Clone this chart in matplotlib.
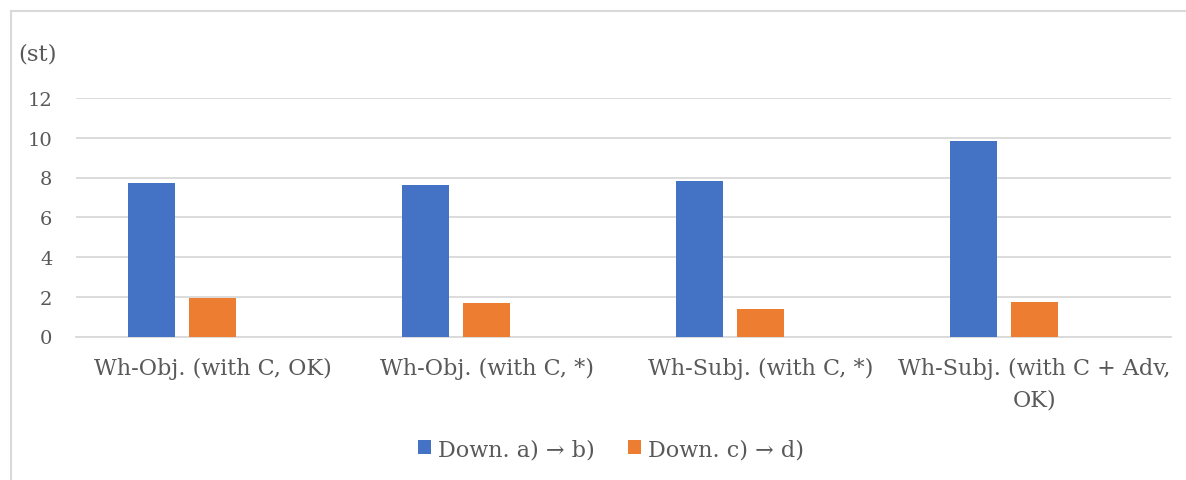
import matplotlib
matplotlib.use("Agg")
import matplotlib.pyplot as plt
from matplotlib.lines import Line2D
import numpy as np

# chart data
categories = ["Wh-Obj. (with C, OK)", "Wh-Obj. (with C, *)",
              "Wh-Subj. (with C, *)", "Wh-Subj. (with C + Adv,\nOK)"]
down_ab = [7.7, 7.6, 7.82, 9.85]
down_cd = [1.95, 1.7, 1.4, 1.72]
series_names = ["Down. a) \u2192 b)", "Down. c) \u2192 d)"]
yticks = [0, 2, 4, 6, 8, 10, 12]

blue = "#4472C4"
orange = "#ED7D31"
text_col = "#595959"
grid_col = "#D9D9D9"

plt.rcParams['font.family'] = ['DejaVu Serif']

fig = plt.figure(figsize=(11.86, 4.81), dpi=100)
ax = fig.add_axes([76 / 1186, 1 - 337.5 / 481, (1171 - 76) / 1186, (337.5 - 99) / 481])

# chart frame: only top and left edges are inside the picture
fx, fy = 10.5 / 1186, 1 - 12 / 481
fig.lines.append(Line2D([fx, 1.02], [fy, fy], transform=fig.transFigure,
                        color=grid_col, linewidth=1.5))
fig.lines.append(Line2D([fx, fx], [-0.02, fy], transform=fig.transFigure,
                        color=grid_col, linewidth=1.5))

x = np.arange(len(categories))
w = 0.172
step = 0.223  # three slots per group, third one empty
ax.bar(x - step, down_ab, w, color=blue, label=series_names[0], zorder=3)
ax.bar(x, down_cd, w, color=orange, label=series_names[1], zorder=3)

ax.set_xlim(-0.5, len(categories) - 0.5)
ax.set_ylim(0, 12)
ax.set_yticks(yticks)
ax.set_yticklabels([str(t) for t in yticks])
ax.set_xticks(x)
ax.set_xticklabels(categories, linespacing=1.55)
ax.tick_params(axis='y', length=0, pad=17, labelsize=14, labelcolor=text_col)
ax.tick_params(axis='x', length=0, pad=14.5, labelsize=16, labelcolor=text_col)
ax.yaxis.grid(True, color=grid_col, linewidth=1.3, zorder=0)
for s in ['top', 'right', 'left']:
    ax.spines[s].set_visible(False)
ax.spines['bottom'].set_color(grid_col)
ax.spines['bottom'].set_linewidth(1.3)

fig.text(18 / 1186, 1 - 55 / 481, "(st)", fontsize=16.5, color=text_col,
         ha='left', va='center')

leg = fig.legend(loc='center', bbox_to_anchor=(0.515, 1 - 450 / 481), ncol=2,
                 frameon=False, fontsize=16, handlelength=0.6, handleheight=0.6,
                 handletextpad=0.3, columnspacing=1.5, labelcolor=text_col)

fig.savefig("out.png", dpi=100)
